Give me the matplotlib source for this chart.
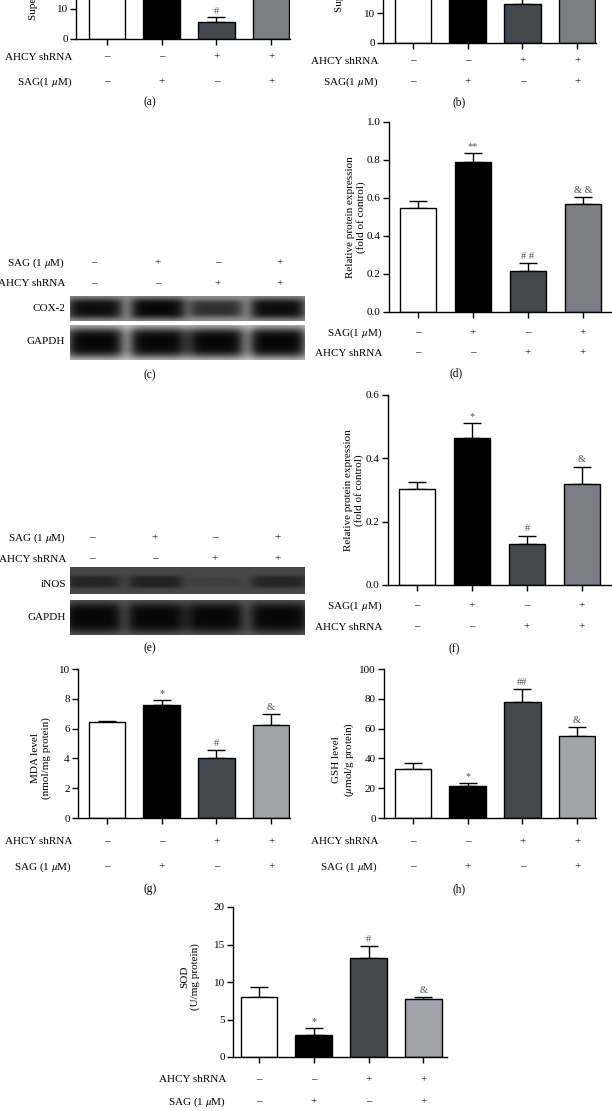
import numpy as np
import matplotlib
matplotlib.use("Agg")
from matplotlib import pyplot as plt
from matplotlib.transforms import blended_transform_factory

plt.rcParams["font.family"] = ["Liberation Serif", "DejaVu Serif"]
plt.rcParams["mathtext.fontset"] = "stix"
plt.rcParams["axes.linewidth"] = 1.0

W, H = 612, 1111

# ---- data ----
a_vals = [18.0, 24.0, 5.5, 16.0]
a_errs = [1.5, 1.5, 1.7, 1.5]
a_marks = ["", "", "#", ""]

b_vals = [22.0, 26.0, 13.1, 20.0]
b_errs = [1.5, 1.5, 3.5, 1.5]

d_vals = [0.547, 0.789, 0.216, 0.568]
d_errs = [0.037, 0.048, 0.042, 0.037]
d_marks = ["", "**", "# #", "& &"]

f_vals = [0.303, 0.465, 0.129, 0.318]
f_errs = [0.023, 0.046, 0.027, 0.056]
f_marks = ["", "*", "#", "&"]

g_vals = [6.42, 7.58, 4.0, 6.24]
g_errs = [0.11, 0.34, 0.6, 0.78]
g_marks = ["", "*", "#", "&"]

h_vals = [32.7, 21.5, 77.9, 55.3]
h_errs = [4.0, 1.8, 8.7, 6.0]
h_marks = ["", "*", "##", "&"]

sod_vals = [8.04, 2.93, 13.24, 7.69]
sod_errs = [1.34, 0.98, 1.6, 0.35]
sod_marks = ["", "*", "#", "&"]

ahcy = ["\u2013", "\u2013", "+", "+"]
sag = ["\u2013", "+", "\u2013", "+"]

# western blot band strength per lane (0 = none, 1 = saturated)
cox2_bands = [0.95, 1.0, 0.7, 0.95]
cox2_gapdh = [1.0, 1.0, 1.0, 1.0]
inos_bands = [0.55, 0.6, 0.15, 0.55]
inos_gapdh = [1.0, 1.0, 1.0, 1.0]

cols_dark = ["white", "black", "#45484b", "#7c7e81"]
cols_light = ["white", "black", "#45484b", "#a2a4a7"]
mark_col = "#555555"
FS = 8


def fx(px):
    return px / W


def fy(py):
    return 1 - py / H


def bar_panel(fig, x0, x1, ybase, ytop, c0, sp, ymax, yticks, vals, errs, marks,
              cols, fmt=None):
    ax = fig.add_axes([fx(x0), fy(ybase), (x1 - x0) / W, (ybase - ytop) / H])
    x = np.arange(len(vals))
    ax.bar(x, vals, width=0.67, color=cols, edgecolor="black", linewidth=1.0, zorder=2)
    ax.errorbar(x, vals, yerr=[np.zeros(len(vals)), errs], fmt="none", ecolor="black",
                elinewidth=1.0, capsize=6.5, capthick=1.0, zorder=1)
    for xi, v, e, m in zip(x, vals, errs, marks):
        if m:
            ax.text(xi, v + e + ymax * 0.012, m, ha="center", va="bottom",
                    fontsize=FS - 0.5, color=mark_col)
    ax.set_xlim((x0 - c0) / sp, (x1 - c0) / sp)
    ax.set_ylim(0, ymax)
    ax.set_xticks(x)
    ax.set_xticklabels([])
    ax.set_yticks(yticks)
    if fmt:
        ax.set_yticklabels([fmt % t for t in yticks])
    for s in ["top", "right"]:
        ax.spines[s].set_visible(False)
    ax.tick_params(direction="out", length=4, width=1.0, labelsize=FS, pad=2)
    return ax


def sign_rows(fig, ax, rows, label_x):
    tr = blended_transform_factory(ax.transData, fig.transFigure)
    for label, signs, py in rows:
        fig.text(fx(label_x), fy(py), label, ha="right", va="center", fontsize=FS)
        for i, s in enumerate(signs):
            ax.text(i, fy(py), s, transform=tr, ha="center", va="center",
                    fontsize=FS, clip_on=False)


def blot(fig, x0, x1, y0, y1, levels, bg, lane_px, hw, hh, yc=0.5):
    ax = fig.add_axes([fx(x0), fy(y1), (x1 - x0) / W, (y1 - y0) / H])
    yy, xx = np.mgrid[0:1:80j, 0:1:400j]
    img = np.full(xx.shape, bg)
    for c, lv in zip(lane_px, levels):
        cx = (c - x0) / (x1 - x0)
        prof = np.exp(-((xx - cx) / hw) ** 6 - ((yy - yc) / (hh * (0.5 + 0.5 * lv))) ** 4)
        img = img - lv * (bg - 0.03) * prof
    ax.imshow(img, cmap="gray", vmin=0, vmax=1, aspect="auto", extent=[0, 1, 0, 1],
              interpolation="bilinear")
    ax.set_xticks([])
    ax.set_yticks([])
    for s in ax.spines.values():
        s.set_visible(False)
    return ax


def ylab(px, py, text, va="center"):
    fig.text(fx(px), fy(py), text, rotation=90, ha="center", va=va, fontsize=FS,
             multialignment="center")


def caption(px, py, text):
    fig.text(fx(px), fy(py), text, ha="center", va="center", fontsize=FS + 0.3)


fig = plt.figure(figsize=(W / 100, H / 100), dpi=100)

# (a) -- cropped at the top
ax = bar_panel(fig, 76, 290, 38.5, -79.5, 107, 54.7, 40, [0, 10],
               a_vals, a_errs, a_marks, cols_dark)
sign_rows(fig, ax, [("AHCY shRNA", ahcy, 57), ("SAG(1 $\\mu$M)", sag, 82)], 72)
ylab(33, 20, "Supernatant IL-1\u03b2 (pg/mL)", va="bottom")
caption(150, 102, "(a)")

# (b)
ax = bar_panel(fig, 383, 596, 42.7, -74.9, 413, 54.7, 40, [0, 10],
               b_vals, b_errs, ["", "", "", ""], cols_dark)
sign_rows(fig, ax, [("AHCY shRNA", ahcy, 61), ("SAG(1 $\\mu$M)", sag, 82)], 378)
ylab(339, 12, "Supernatant IL-6 (pg/mL)", va="bottom")
caption(459, 102, "(b)")

# (c) COX-2 blot
c_lanes = [95, 158, 216, 278]
blot(fig, 70, 305, 296, 321, cox2_bands, 0.56, c_lanes, 0.118, 0.42)
blot(fig, 70, 305, 325, 360, cox2_gapdh, 0.80, c_lanes, 0.125, 0.44)
for lbl, signs, py in [("SAG (1 $\\mu$M)", sag, 263), ("AHCY shRNA", ahcy, 284)]:
    fig.text(fx(65), fy(py), lbl, ha="right", va="center", fontsize=FS)
    for c, s in zip([94, 158, 218, 280], signs):
        fig.text(fx(c), fy(py), s, ha="center", va="center", fontsize=FS)
fig.text(fx(65), fy(309), "COX-2", ha="right", va="center", fontsize=FS)
fig.text(fx(65), fy(342), "GAPDH", ha="right", va="center", fontsize=FS)
caption(150, 375, "(c)")

# (d)
ax = bar_panel(fig, 389, 611, 312, 122, 418, 55, 1.0, [0, 0.2, 0.4, 0.6, 0.8, 1.0],
               d_vals, d_errs, d_marks, cols_dark, fmt="%.1f")
sign_rows(fig, ax, [("SAG(1 $\\mu$M)", sag, 333), ("AHCY shRNA", ahcy, 353)], 382)
ylab(356, 217, "Relative protein expression\n(fold of control)")
caption(456, 373, "(d)")

# (e) iNOS blot
e_lanes = [93, 156, 215, 279]
blot(fig, 70, 305, 567, 594, inos_bands, 0.28, e_lanes, 0.118, 0.3, yc=0.55)
blot(fig, 70, 305, 600, 635, inos_gapdh, 0.36, e_lanes, 0.125, 0.44)
for lbl, signs, py in [("SAG (1 $\\mu$M)", sag, 538), ("AHCY shRNA", ahcy, 559)]:
    fig.text(fx(66), fy(py), lbl, ha="right", va="center", fontsize=FS)
    for c, s in zip([92, 155, 215, 278], signs):
        fig.text(fx(c), fy(py), s, ha="center", va="center", fontsize=FS)
fig.text(fx(66), fy(584), "iNOS", ha="right", va="center", fontsize=FS)
fig.text(fx(66), fy(618), "GAPDH", ha="right", va="center", fontsize=FS)
caption(150, 648, "(e)")

# (f)
ax = bar_panel(fig, 388, 611, 585, 395, 417, 55, 0.6, [0, 0.2, 0.4, 0.6],
               f_vals, f_errs, f_marks, cols_dark, fmt="%.1f")
sign_rows(fig, ax, [("SAG(1 $\\mu$M)", sag, 606), ("AHCY shRNA", ahcy, 627)], 382)
ylab(354, 490, "Relative protein expression\n(fold of control)")
caption(454, 649, "(f)")

# (g)
ax = bar_panel(fig, 78, 290, 818, 669.2, 107, 54.7, 10, [0, 2, 4, 6, 8, 10],
               g_vals, g_errs, g_marks, cols_light)
sign_rows(fig, ax, [("AHCY shRNA", ahcy, 842), ("SAG (1 $\\mu$M)", sag, 867)], 72)
ylab(41, 758, "MDA level\n(nmol/mg protein)")
caption(150, 889, "(g)")

# (h)
ax = bar_panel(fig, 384, 596, 818, 669.2, 413, 54.7, 100, [0, 20, 40, 60, 80, 100],
               h_vals, h_errs, h_marks, cols_light)
sign_rows(fig, ax, [("AHCY shRNA", ahcy, 842), ("SAG (1 $\\mu$M)", sag, 867)], 378)
ylab(344, 760, "GSH level\n($\\mu$mol/g protein)")
caption(459, 889, "(h)")

# SOD -- cropped at the bottom
ax = bar_panel(fig, 233, 447, 1057, 907, 259, 54.8, 20, [0, 5, 10, 15, 20],
               sod_vals, sod_errs, sod_marks, cols_light)
sign_rows(fig, ax, [("AHCY shRNA", ahcy, 1080), ("SAG (1 $\\mu$M)", sag, 1102)], 226)
ylab(190, 977, "SOD\n(U/mg protein)")

fig.savefig("out.png", dpi=100)
